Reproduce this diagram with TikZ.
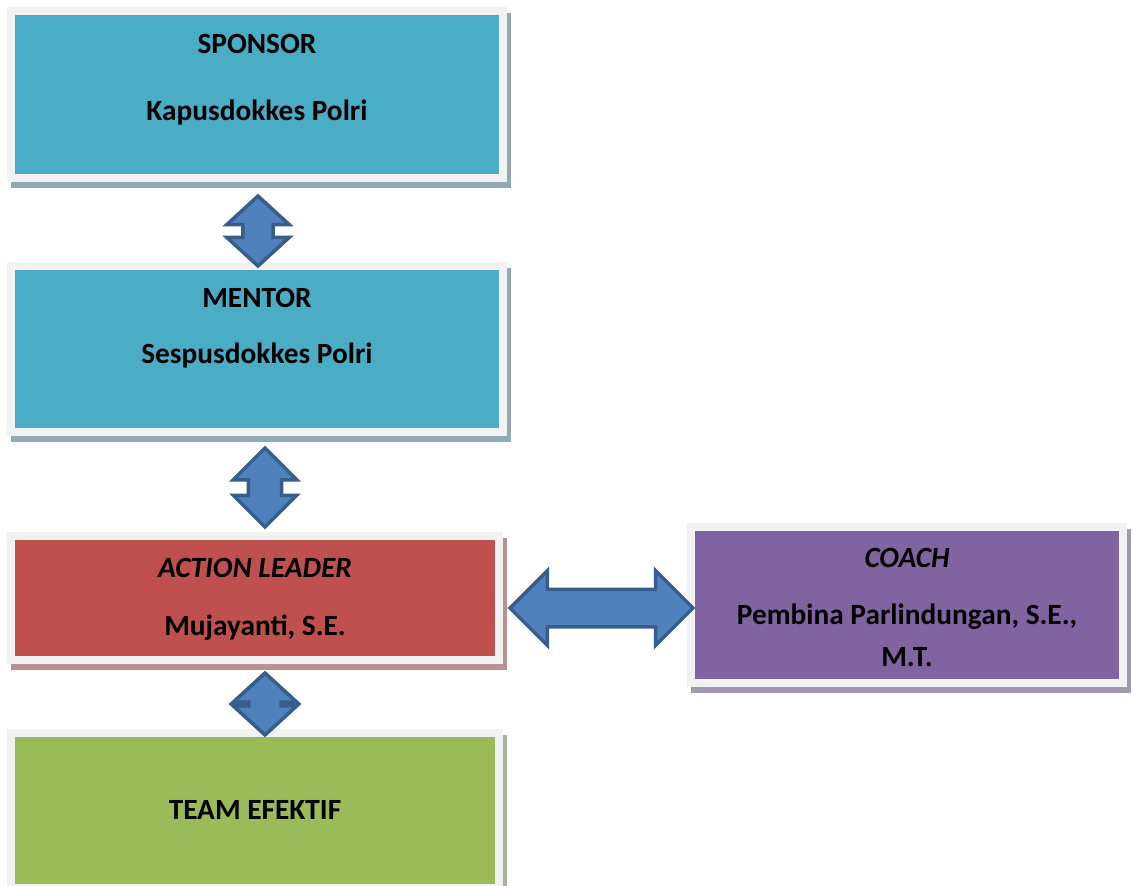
\documentclass[tikz,border=0pt]{standalone}
\usepackage{fontspec}
\setmainfont{Carlito}
\usetikzlibrary{shapes.arrows}

\definecolor{framegray}{HTML}{F2F2F2}
\definecolor{tealbox}{HTML}{4BACC6}
\definecolor{tealshade}{HTML}{91AAB4}
\definecolor{redbox}{HTML}{C0504D}
\definecolor{redshade}{HTML}{B89292}
\definecolor{purplebox}{HTML}{8064A2}
\definecolor{purpleshade}{HTML}{A399AE}
\definecolor{greenbox}{HTML}{9BBB59}
\definecolor{greenshade}{HTML}{A8B49A}
\definecolor{arrowblue}{HTML}{4F81BD}
\definecolor{arrowdark}{HTML}{385D8A}

\tikzset{
  box/.style 2 args={draw=framegray, fill=#1, line width=0.16cm, inner sep=0pt,
    preaction={draw=#2, fill=#2, line width=0.16cm,
      transform canvas={shift={(0.08cm,-0.12cm)}}}},
  lbl/.style={anchor=base, inner sep=0pt,
    font=\bfseries\fontsize{16.7}{19}\selectfont},
  dblarrow/.style={double arrow, fill=arrowblue, draw=arrowdark,
    line width=0.07cm, inner xsep=0pt}
}

\begin{document}
\begin{tikzpicture}[x=0.02cm, y=-0.02cm]
    \useasboundingbox (0,0) rectangle (1134,886);
    % boxes
    \node[box={tealbox}{tealshade}, minimum width=9.84cm, minimum height=3.34cm]
      (sponsor) at (257, 94.5) {};
    \node[box={tealbox}{tealshade}, minimum width=9.84cm, minimum height=3.32cm]
      (mentor) at (257, 349) {};
    \node[box={redbox}{redshade}, minimum width=9.76cm, minimum height=2.48cm]
      (leader) at (255, 598) {};
    \node[box={greenbox}{greenshade}, minimum width=9.76cm, minimum height=3.1cm]
      (team) at (255, 810.5) {};
    \node[box={purplebox}{purpleshade}, minimum width=8.64cm, minimum height=3.12cm]
      (coach) at (907, 605) {};
    % texts
    \node[lbl] (sponsortitle) at (257, 53)  {SPONSOR};
    \node[lbl] (sponsorname)  at (257, 120) {Kapusdokkes Polri};
    \node[lbl] (mentortitle)  at (257, 307) {MENTOR};
    \node[lbl] (mentorname)   at (257, 363) {Sespusdokkes Polri};
    \node[lbl] (leadertitle)  at (255, 577) {\itshape ACTION LEADER};
    \node[lbl] (leadername)   at (255, 635) {Mujayanti, S.E.};
    \node[lbl] (coachtitle)   at (907, 567) {\itshape COACH};
    \node[lbl] (coachname)    at (907, 624) {Pembina Parlindungan, S.E.,};
    \node[lbl] (coachdegree)  at (907, 666) {M.T.};
    \node[lbl] (teamtitle)    at (255, 819) {TEAM EFEKTIF};
    % arrows
    \node[dblarrow, rotate=90, minimum height=1.40cm, inner ysep=0.27cm,
      double arrow head extend=0.32cm, double arrow tip angle=95] (sm) at (258, 231) {};
    \node[dblarrow, rotate=90, minimum height=1.58cm, inner ysep=0.30cm,
      double arrow head extend=0.30cm] (ml) at (265, 487.5) {};
    \node[dblarrow, rotate=90, minimum height=1.24cm, inner ysep=0.29cm,
      double arrow head extend=0.31cm, double arrow tip angle=95] (lt) at (265, 704) {};
    \node[dblarrow, minimum height=3.66cm, inner ysep=0.34cm,
      double arrow head extend=0.37cm] (lc) at (601.5, 608) {};
\end{tikzpicture}
\end{document}
